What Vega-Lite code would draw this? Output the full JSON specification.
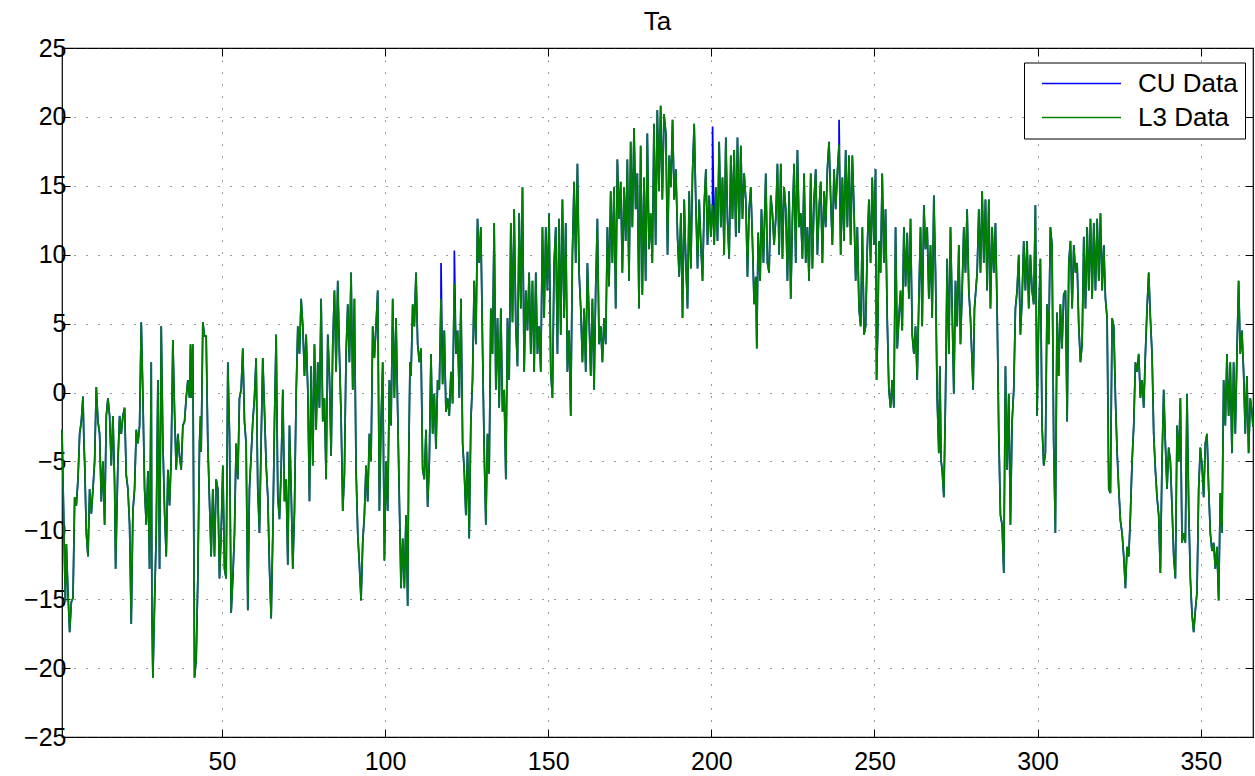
{
"$schema":"https://vega.github.io/schema/vega-lite/v6.json",
"width":1191,"height":689,
"autosize":{"type":"none"},
"padding":{"left":62,"top":48,"right":2,"bottom":39},
"background":"white",
"title":{"text":"Ta","fontSize":26,"font":"Liberation Sans","fontWeight":"normal","color":"black","anchor":"middle","frame":"group","baseline":"alphabetic","offset":-20},
"config":{"view":{"stroke":"black","strokeWidth":1.2},"axis":{"labelFont":"Liberation Sans","labelFontSize":25,"labelColor":"black","tickColor":"black","tickWidth":1,"title":null,"labelOverlap":false,"labelFlush":false}},
"data":{"values":[
{"d":1.0,"v":-2.7},{"d":2.02,"v":-15.2},{"d":2.33,"v":-11},{"d":2.84,"v":-14.6},{"d":3.35,"v":-17.4},{"d":3.86,"v":-15.2},{"d":4.37,"v":-14.9},{"d":4.88,"v":-7.6},{"d":5.39,"v":-8.2},{"d":5.9,"v":-6.3},{"d":6.41,"v":-3},{"d":6.92,"v":-2.1},{"d":7.43,"v":-0.3},{"d":7.73,"v":-3.7},{"d":7.94,"v":-5},{"d":8.45,"v":-10.2},{"d":8.96,"v":-11.9},{"d":9.47,"v":-7},{"d":9.98,"v":-8.8},{"d":10.49,"v":-7},{"d":11.0,"v":-5},{"d":11.51,"v":0.4},{"d":12.02,"v":-2.1},{"d":12.53,"v":-3},{"d":13.04,"v":-7.9},{"d":13.55,"v":-5},{"d":14.06,"v":-9.6},{"d":14.57,"v":-1.7},{"d":15.08,"v":-0.4},{"d":15.59,"v":-1.7},{"d":16.1,"v":-5.3},{"d":16.61,"v":-1.7},{"d":17.12,"v":-6.6},{"d":17.43,"v":-12.8},{"d":18.14,"v":-5},{"d":18.65,"v":-1.7},{"d":19.16,"v":-3},{"d":19.67,"v":-1.7},{"d":20.18,"v":-1.1},{"d":20.69,"v":-6},{"d":21.2,"v":-7},{"d":21.71,"v":-9.6},{"d":22.22,"v":-16.8},{"d":22.73,"v":-8.6},{"d":23.24,"v":-7},{"d":23.76,"v":-2.7},{"d":24.27,"v":-3.7},{"d":24.78,"v":-2.4},{"d":25.29,"v":5.1},{"d":25.8,"v":-0.4},{"d":26.31,"v":-7},{"d":26.82,"v":-9.6},{"d":27.33,"v":-5.7},{"d":27.84,"v":-12.8},{"d":28.35,"v":2.2},{"d":28.55,"v":-15.8},{"d":28.86,"v":-20.7},{"d":29.37,"v":-15.2},{"d":29.88,"v":-10.2},{"d":30.39,"v":0.9},{"d":30.9,"v":-12.8},{"d":31.41,"v":4.8},{"d":31.92,"v":-3.7},{"d":32.43,"v":-8.6},{"d":32.94,"v":-11.9},{"d":33.45,"v":-5.6},{"d":33.96,"v":-8.2},{"d":34.47,"v":-4.6},{"d":34.98,"v":3.8},{"d":35.49,"v":-1.4},{"d":36.0,"v":-5.6},{"d":36.51,"v":-3},{"d":37.02,"v":-4.6},{"d":37.53,"v":-5.6},{"d":38.04,"v":-2.4},{"d":38.55,"v":-2.1},{"d":39.06,"v":-0.4},{"d":39.57,"v":0.9},{"d":40.08,"v":-0.4},{"d":40.39,"v":3.5},{"d":40.59,"v":-0.4},{"d":41.1,"v":3.5},{"d":41.61,"v":-20.7},{"d":42.12,"v":-19.4},{"d":42.63,"v":-13.5},{"d":43.14,"v":-3.7},{"d":43.45,"v":-1.7},{"d":43.65,"v":-4.3},{"d":44.16,"v":5.1},{"d":44.67,"v":4.1},{"d":45.18,"v":4.1},{"d":45.69,"v":-3.7},{"d":46.2,"v":-7.9},{"d":46.71,"v":-11.9},{"d":47.22,"v":-7},{"d":47.73,"v":-11.9},{"d":48.24,"v":-6.3},{"d":48.76,"v":-7},{"d":49.27,"v":-13.5},{"d":49.78,"v":-10.2},{"d":50.29,"v":-5.3},{"d":50.8,"v":-12.8},{"d":51.31,"v":-13.5},{"d":51.82,"v":2.2},{"d":52.33,"v":-3},{"d":52.84,"v":-16},{"d":53.35,"v":-13.5},{"d":53.86,"v":-10.2},{"d":54.37,"v":-3.7},{"d":54.88,"v":-6.3},{"d":55.39,"v":-0.4},{"d":55.9,"v":0.2},{"d":56.41,"v":3.2},{"d":56.92,"v":-2.1},{"d":57.43,"v":-3.7},{"d":57.94,"v":-15.8},{"d":58.45,"v":-7},{"d":58.96,"v":-4.6},{"d":59.47,"v":-2.1},{"d":59.98,"v":-0.4},{"d":60.49,"v":2.5},{"d":61.0,"v":-7},{"d":61.51,"v":-10.2},{"d":62.02,"v":-3.7},{"d":62.53,"v":2.5},
{"d":63.06,"v":-1.4},{"d":63.57,"v":-5.3},{"d":64.08,"v":-7.6},{"d":64.59,"v":-12.8},{"d":65.1,"v":-16.4},{"d":65.61,"v":-10.2},{"d":66.12,"v":-2.1},{"d":66.63,"v":4.2},{"d":67.14,"v":-7.6},{"d":67.65,"v":-9.2},{"d":68.16,"v":-5.6},{"d":68.67,"v":0.2},{"d":69.18,"v":-7.9},{"d":69.69,"v":-6.3},{"d":70.2,"v":-12.5},{"d":70.71,"v":-2.4},{"d":71.22,"v":-7},{"d":71.73,"v":-12.8},{"d":72.24,"v":-8.6},{"d":72.76,"v":-0.1},{"d":73.27,"v":4.8},{"d":73.78,"v":2.8},{"d":74.29,"v":6.8},{"d":74.8,"v":4.8},{"d":75.31,"v":1.2},{"d":75.82,"v":4.2},{"d":76.33,"v":0.2},{"d":76.84,"v":-7.9},{"d":77.35,"v":1.9},{"d":77.86,"v":-5.3},{"d":78.37,"v":3.5},{"d":78.88,"v":-2.7},{"d":79.39,"v":2.2},{"d":79.9,"v":-1.1},{"d":80.41,"v":6.8},{"d":80.92,"v":-2.1},{"d":81.43,"v":-0.4},{"d":81.94,"v":-6.3},{"d":82.45,"v":4.2},{"d":82.96,"v":1.2},{"d":83.47,"v":-4.6},{"d":83.98,"v":3.5},{"d":84.49,"v":7.4},{"d":85.0,"v":1.5},{"d":85.51,"v":8.1},{"d":86.02,"v":2.8},{"d":86.53,"v":-1.7},{"d":87.04,"v":-8.6},{"d":87.55,"v":-5.9},{"d":88.06,"v":2.8},{"d":88.57,"v":6.4},{"d":89.08,"v":2.2},{"d":89.59,"v":8.7},{"d":90.1,"v":0.2},{"d":90.61,"v":6.8},{"d":91.12,"v":-5.6},{"d":91.63,"v":-10.2},{"d":92.14,"v":-12.5},{"d":92.65,"v":-15.1},{"d":93.16,"v":-10.9},{"d":93.67,"v":-8.9},{"d":94.18,"v":-5.3},{"d":94.69,"v":-7.9},{"d":95.2,"v":-3},{"d":95.71,"v":-5},{"d":96.22,"v":4.8},{"d":96.73,"v":2.5},{"d":97.24,"v":4.8},{"d":97.76,"v":7.4},{"d":98.27,"v":-8.6},{"d":98.78,"v":-2.1},{"d":99.29,"v":2.2},{"d":99.8,"v":-12.2},{"d":100.31,"v":-5},{"d":100.82,"v":-8.6},{"d":101.33,"v":0.9},{"d":101.84,"v":-2.4},{"d":102.35,"v":6.8},{"d":102.86,"v":-0.4},{"d":103.37,"v":5.4},{"d":103.88,"v":-1.4},{"d":104.39,"v":-7.9},{"d":104.9,"v":-14.2},{"d":105.41,"v":-10.6},{"d":105.92,"v":-14.2},{"d":106.43,"v":-8.9},{"d":106.94,"v":-15.5},{"d":107.24,"v":-5.3},{"d":107.65,"v":2.2},{"d":107.96,"v":1.2},{"d":108.47,"v":6.4},{"d":108.98,"v":4.8},{"d":109.49,"v":8.7},{"d":110.0,"v":3.5},{"d":110.51,"v":2.2},{"d":111.02,"v":3.2},{"d":111.53,"v":-5.6},{"d":112.04,"v":-6.3},{"d":112.55,"v":-2.7},{"d":113.06,"v":-8.3},{"d":113.57,"v":-5},{"d":114.08,"v":2.8},{"d":114.59,"v":-3},{"d":115.1,"v":-0.1},{"d":115.61,"v":-4.1},{"d":116.12,"v":0.9},{"d":116.63,"v":0.2},{"d":117.14,"v":6.8},{"d":117.16,"v":9.4,"cu":1},{"d":117.65,"v":0.6},{"d":118.16,"v":4.5},{"d":118.67,"v":-1.4},{"d":119.18,"v":-0.4},{"d":119.69,"v":-1.7},{"d":120.2,"v":1.5},{"d":120.71,"v":-0.8},{"d":121.22,"v":7.9},{"d":121.24,"v":10.3,"cu":1},{"d":121.73,"v":2.8},{"d":122.24,"v":4.5},{"d":122.76,"v":-0.4},{"d":123.27,"v":6.8},{"d":123.78,"v":-3.7},
{"d":124.26,"v":-5.6},{"d":124.77,"v":-8.9},{"d":125.28,"v":-4.3},{"d":125.79,"v":-10.6},{"d":126.3,"v":-2.1},{"d":126.81,"v":0.9},{"d":127.32,"v":8.1},{"d":127.83,"v":3.5},{"d":128.34,"v":12.6},{"d":128.85,"v":9.4},{"d":129.36,"v":12},{"d":129.87,"v":3.5},{"d":130.38,"v":-4.1},{"d":130.89,"v":-9.6},{"d":131.4,"v":-3},{"d":131.91,"v":-5.9},{"d":132.42,"v":6.1},{"d":132.93,"v":2.8},{"d":133.44,"v":12.3},{"d":133.96,"v":0.2},{"d":134.47,"v":5.4},{"d":134.98,"v":-1.1},{"d":135.49,"v":6.1},{"d":136.0,"v":-1.4},{"d":136.51,"v":0.2},{"d":137.02,"v":-6.3},{"d":137.53,"v":5.4},{"d":138.04,"v":0.9},{"d":138.55,"v":12.3},{"d":139.06,"v":5.1},{"d":139.57,"v":13.3},{"d":140.08,"v":4.8},{"d":140.59,"v":1.9},{"d":141.1,"v":13},{"d":141.61,"v":6.1},{"d":142.12,"v":14.9},{"d":142.63,"v":1.5},{"d":143.14,"v":7.4},{"d":143.65,"v":4.5},{"d":144.16,"v":8.7},{"d":144.67,"v":2.8},{"d":145.18,"v":8.1},{"d":145.69,"v":1.5},{"d":146.2,"v":8.7},{"d":146.71,"v":2.8},{"d":147.22,"v":4.8},{"d":147.73,"v":1.5},{"d":148.24,"v":12},{"d":148.75,"v":5.4},{"d":149.26,"v":12},{"d":149.77,"v":7.4},{"d":150.28,"v":13},{"d":150.79,"v":1.5},{"d":151.3,"v":-0.4},{"d":151.81,"v":9.4},{"d":152.32,"v":12},{"d":152.83,"v":2.8},{"d":153.34,"v":12.6},{"d":153.85,"v":4.2},{"d":154.36,"v":14},{"d":154.87,"v":5.4},{"d":155.38,"v":12.3},{"d":155.89,"v":1.5},{"d":156.4,"v":4.5},{"d":156.91,"v":-1.7},{"d":157.42,"v":10},{"d":157.93,"v":15.3},{"d":158.44,"v":9.4},{"d":158.96,"v":16.6},{"d":159.47,"v":8.7},{"d":159.98,"v":6.1},{"d":160.49,"v":2.2},{"d":161.0,"v":6.1},{"d":161.51,"v":1.5},{"d":162.02,"v":9.4},{"d":162.53,"v":5.4},{"d":163.04,"v":1.2},{"d":163.55,"v":6.8},{"d":164.06,"v":0.2},{"d":164.57,"v":7.7},{"d":165.08,"v":12.6},{"d":165.59,"v":3.5},{"d":166.1,"v":4.8},{"d":166.61,"v":2.2},{"d":167.12,"v":5.4},{"d":167.63,"v":3.5},{"d":168.14,"v":12},{"d":168.65,"v":7.7},{"d":169.16,"v":14.6},{"d":169.67,"v":9.4},{"d":170.18,"v":14.9},{"d":170.69,"v":6.1},{"d":171.2,"v":16.9},{"d":171.71,"v":12.6},{"d":172.22,"v":15.3},{"d":172.73,"v":8.7},{"d":173.24,"v":14.9},{"d":173.75,"v":11},{"d":174.26,"v":16.9},{"d":174.77,"v":8.1},{"d":175.28,"v":18.2},{"d":175.79,"v":12},{"d":176.3,"v":19.2},{"d":176.81,"v":13.3},{"d":177.32,"v":15.9},{"d":177.83,"v":6.1},{"d":178.34,"v":17.9},{"d":178.85,"v":7.1},{"d":179.36,"v":15.6},{"d":179.87,"v":8.1},{"d":180.38,"v":18.8},{"d":180.89,"v":10.4},{"d":181.4,"v":13},{"d":181.91,"v":9.4},{"d":182.42,"v":19.5},{"d":182.93,"v":10.7},{"d":183.44,"v":20.5},{"d":183.95,"v":14.6},{"d":184.47,"v":20.8},{"d":184.98,"v":14},{"d":185.49,"v":20.2},
{"d":186.07,"v":18.8},{"d":186.58,"v":10},{"d":187.09,"v":17.2},{"d":187.6,"v":14.9},{"d":188.11,"v":19.8},{"d":188.62,"v":14},{"d":189.13,"v":16.2},{"d":189.64,"v":11.3},{"d":190.15,"v":8.4},{"d":190.66,"v":13},{"d":191.17,"v":5.4},{"d":191.68,"v":14},{"d":192.19,"v":9.4},{"d":192.7,"v":6.1},{"d":193.21,"v":14.6},{"d":193.72,"v":9},{"d":194.23,"v":15.9},{"d":194.74,"v":19.5},{"d":195.26,"v":13.6},{"d":195.77,"v":9},{"d":196.28,"v":14},{"d":196.79,"v":10.7},{"d":197.3,"v":8.1},{"d":197.81,"v":13.6},{"d":198.32,"v":16.2},{"d":198.83,"v":10.7},{"d":199.34,"v":14.3},{"d":199.85,"v":11.3},{"d":200.36,"v":13.6},{"d":200.38,"v":19.3,"cu":1},{"d":200.87,"v":10.7},{"d":201.38,"v":14.9},{"d":201.89,"v":11},{"d":202.4,"v":18.2},{"d":202.91,"v":12},{"d":203.42,"v":15.6},{"d":203.93,"v":10},{"d":204.44,"v":18.5},{"d":204.95,"v":12.6},{"d":205.46,"v":9.7},{"d":205.97,"v":17.2},{"d":206.48,"v":12.6},{"d":206.99,"v":17.6},{"d":207.5,"v":11.3},{"d":208.01,"v":18.5},{"d":208.52,"v":11.6},{"d":209.03,"v":17.9},{"d":209.54,"v":12.6},{"d":210.05,"v":15.9},{"d":210.56,"v":14},{"d":211.07,"v":8.4},{"d":211.58,"v":13.3},{"d":212.09,"v":14.9},{"d":212.6,"v":11},{"d":213.11,"v":6.4},{"d":213.62,"v":8.4},{"d":213.93,"v":3.2},{"d":214.34,"v":11.6},{"d":214.95,"v":8.1},{"d":215.36,"v":13.3},{"d":215.97,"v":9.4},{"d":216.68,"v":15.9},{"d":217.19,"v":9.4},{"d":217.7,"v":8.7},{"d":218.21,"v":14.3},{"d":218.72,"v":13},{"d":219.23,"v":10.7},{"d":219.74,"v":12.6},{"d":220.26,"v":16.6},{"d":220.77,"v":10},{"d":221.28,"v":16.6},{"d":221.79,"v":9.7},{"d":222.3,"v":14.9},{"d":222.81,"v":13.3},{"d":223.32,"v":8.1},{"d":223.83,"v":14.6},{"d":224.34,"v":6.8},{"d":224.85,"v":12.6},{"d":225.36,"v":16.6},{"d":225.87,"v":9.4},{"d":226.38,"v":17.6},{"d":226.89,"v":12},{"d":227.4,"v":13},{"d":227.91,"v":9.7},{"d":228.42,"v":15.9},{"d":228.93,"v":9.4},{"d":229.44,"v":12},{"d":229.95,"v":8.1},{"d":230.46,"v":15.9},{"d":230.97,"v":9},{"d":231.48,"v":14},{"d":231.99,"v":16.2},{"d":232.5,"v":10},{"d":233.01,"v":13.3},{"d":233.52,"v":15.3},{"d":234.03,"v":9.4},{"d":234.54,"v":14.6},{"d":235.05,"v":12},{"d":235.56,"v":16.2},{"d":236.07,"v":18.2},{"d":236.58,"v":14},{"d":237.09,"v":10.7},{"d":237.6,"v":16.2},{"d":238.11,"v":13.3},{"d":238.62,"v":15.9},{"d":239.13,"v":18.0},{"d":239.15,"v":19.8,"cu":1},{"d":239.64,"v":10},{"d":240.15,"v":15.6},{"d":240.66,"v":11},{"d":241.17,"v":17.6},{"d":241.68,"v":12},{"d":242.19,"v":17.2},{"d":242.7,"v":10.7},{"d":243.21,"v":17.2},{"d":243.72,"v":13.3},{"d":244.23,"v":8.1},{"d":244.74,"v":12},{"d":245.26,"v":6.1},{"d":245.77,"v":4.8},{"d":246.28,"v":12},{"d":246.79,"v":4.2},
{"d":247.27,"v":4.8},{"d":247.78,"v":10.4},{"d":248.29,"v":14},{"d":248.8,"v":9.4},{"d":249.31,"v":15.6},{"d":249.82,"v":10.7},{"d":250.33,"v":16.2},{"d":250.64,"v":0.9},{"d":251.05,"v":5.1},{"d":251.35,"v":11},{"d":251.86,"v":8.7},{"d":252.37,"v":15.9},{"d":252.88,"v":9.4},{"d":253.39,"v":13.3},{"d":253.9,"v":5.4},{"d":254.41,"v":0.2},{"d":254.92,"v":-1.1},{"d":255.43,"v":0.9},{"d":255.94,"v":-1.1},{"d":256.46,"v":12},{"d":256.97,"v":3.2},{"d":257.48,"v":5.4},{"d":257.99,"v":7.4},{"d":258.5,"v":4.5},{"d":259.01,"v":12},{"d":259.52,"v":7.7},{"d":260.03,"v":11.6},{"d":260.54,"v":6.8},{"d":261.05,"v":12.6},{"d":261.56,"v":4.2},{"d":262.07,"v":2.8},{"d":262.58,"v":4.8},{"d":263.09,"v":0.9},{"d":263.6,"v":6.8},{"d":264.11,"v":12},{"d":264.62,"v":4.8},{"d":265.13,"v":13.6},{"d":265.64,"v":10.4},{"d":266.15,"v":12},{"d":266.66,"v":6.8},{"d":267.17,"v":10.7},{"d":267.68,"v":5.4},{"d":268.19,"v":14.3},{"d":268.7,"v":8.7},{"d":269.21,"v":-0.4},{"d":269.72,"v":-4.4},{"d":270.03,"v":1.9},{"d":270.43,"v":-5},{"d":270.74,"v":-5.6},{"d":271.25,"v":-7.6},{"d":271.76,"v":-0.4},{"d":272.27,"v":9.7},{"d":272.78,"v":2.8},{"d":273.29,"v":12},{"d":273.8,"v":6.1},{"d":274.31,"v":-0.1},{"d":274.82,"v":8.1},{"d":275.33,"v":4.8},{"d":275.84,"v":10.7},{"d":276.35,"v":3.5},{"d":276.86,"v":7.4},{"d":277.37,"v":12},{"d":277.88,"v":8.7},{"d":278.39,"v":13.3},{"d":278.9,"v":7.4},{"d":279.41,"v":5.4},{"d":279.92,"v":2.2},{"d":280.23,"v":0.2},{"d":280.64,"v":6.1},{"d":281.05,"v":7.4},{"d":281.46,"v":8.7},{"d":281.97,"v":13.3},{"d":282.48,"v":8.7},{"d":282.99,"v":14.6},{"d":283.5,"v":9.4},{"d":284.01,"v":14},{"d":284.52,"v":7.4},{"d":285.03,"v":14},{"d":285.54,"v":6.1},{"d":286.05,"v":12},{"d":286.56,"v":8.7},{"d":287.07,"v":12.3},{"d":287.58,"v":6.1},{"d":288.09,"v":-3},{"d":288.6,"v":-8.9},{"d":289.11,"v":-9.6},{"d":289.62,"v":-13.1},{"d":290.13,"v":1.9},{"d":290.64,"v":-5.6},{"d":291.15,"v":-0.1},{"d":291.66,"v":-9.6},{"d":292.17,"v":-2.1},{"d":292.68,"v":0.2},{"d":293.19,"v":6.1},{"d":293.7,"v":7.4},{"d":294.21,"v":10},{"d":294.72,"v":4.2},{"d":295.23,"v":6.8},{"d":295.74,"v":11},{"d":296.25,"v":7.4},{"d":296.76,"v":11},{"d":297.27,"v":6.1},{"d":297.78,"v":10},{"d":298.29,"v":7.4},{"d":298.8,"v":6.4},{"d":299.31,"v":13.6},{"d":299.82,"v":-1.7},{"d":300.33,"v":5.4},{"d":300.84,"v":9.7},{"d":301.35,"v":-2.4},{"d":301.86,"v":-5.3},{"d":302.37,"v":-4.4},{"d":302.88,"v":6.4},{"d":303.39,"v":3.5},{"d":303.9,"v":12},{"d":304.41,"v":10.7},{"d":304.92,"v":-3.7},{"d":305.43,"v":-10.2},{"d":305.94,"v":5.8},{"d":306.45,"v":1.2},{"d":306.96,"v":6.4},{"d":307.47,"v":3.2},{"d":307.98,"v":7.1},
{"d":308.53,"v":7.4},{"d":309.04,"v":-2.1},{"d":309.55,"v":9.4},{"d":310.06,"v":11},{"d":310.57,"v":6.1},{"d":311.08,"v":10.7},{"d":311.59,"v":8.7},{"d":312.1,"v":9.4},{"d":312.61,"v":4.8},{"d":313.12,"v":2.2},{"d":313.63,"v":3.5},{"d":314.14,"v":11.3},{"d":314.66,"v":6.1},{"d":315.17,"v":12},{"d":315.68,"v":7.4},{"d":316.19,"v":12.6},{"d":316.7,"v":6.8},{"d":317.21,"v":12.3},{"d":317.72,"v":7.4},{"d":318.23,"v":12.6},{"d":318.74,"v":8.1},{"d":319.25,"v":13},{"d":319.76,"v":7.4},{"d":320.27,"v":10.7},{"d":320.78,"v":6.8},{"d":321.29,"v":5.4},{"d":321.8,"v":-7},{"d":322.31,"v":-7.3},{"d":322.82,"v":5.4},{"d":323.33,"v":4.8},{"d":323.84,"v":-0.4},{"d":324.35,"v":-4.3},{"d":324.86,"v":-7},{"d":325.37,"v":-9.3},{"d":325.88,"v":-10.2},{"d":326.39,"v":-11.9},{"d":326.9,"v":-14.2},{"d":327.41,"v":-11.2},{"d":327.92,"v":-11.9},{"d":328.43,"v":-8.9},{"d":328.94,"v":-5},{"d":329.45,"v":-2.4},{"d":329.96,"v":2.2},{"d":330.47,"v":1.5},{"d":330.98,"v":2.8},{"d":331.49,"v":-0.4},{"d":332.0,"v":0.9},{"d":332.51,"v":-1.1},{"d":333.02,"v":2.8},{"d":333.53,"v":6.1},{"d":334.04,"v":8.7},{"d":334.55,"v":5.4},{"d":335.06,"v":2.8},{"d":335.57,"v":-3},{"d":336.08,"v":-5.6},{"d":336.59,"v":-7.6},{"d":337.1,"v":-8.9},{"d":337.61,"v":-13.1},{"d":338.12,"v":-5},{"d":338.63,"v":0.2},{"d":339.14,"v":-3.7},{"d":339.65,"v":-7},{"d":340.16,"v":-4},{"d":340.67,"v":-5},{"d":341.19,"v":-8.3},{"d":341.7,"v":-11.9},{"d":342.21,"v":-13.5},{"d":342.72,"v":-2.4},{"d":343.23,"v":-5},{"d":343.74,"v":-0.4},{"d":344.25,"v":-10.9},{"d":344.76,"v":-10.2},{"d":345.27,"v":-10.9},{"d":345.78,"v":-0.1},{"d":346.29,"v":-8.3},{"d":346.8,"v":-13.5},{"d":347.31,"v":-16.1},{"d":347.82,"v":-17.4},{"d":348.33,"v":-15.8},{"d":348.84,"v":-14.5},{"d":349.35,"v":-7},{"d":349.86,"v":-4},{"d":350.37,"v":-5.3},{"d":350.88,"v":-7.6},{"d":351.39,"v":-3.7},{"d":351.9,"v":-3},{"d":352.41,"v":-7},{"d":352.92,"v":-10.2},{"d":353.43,"v":-11.5},{"d":353.94,"v":-10.9},{"d":354.45,"v":-12.8},{"d":354.96,"v":-11.2},{"d":355.47,"v":-15.1},{"d":355.98,"v":-7.3},{"d":356.49,"v":-10.2},{"d":357.0,"v":0.9},{"d":357.51,"v":-2.4},{"d":358.02,"v":2.8},{"d":358.53,"v":-1.7},{"d":359.04,"v":2.2},{"d":359.55,"v":-4.4},{"d":360.06,"v":2.2},{"d":360.57,"v":-3},{"d":361.08,"v":2.8},{"d":361.59,"v":8.1},{"d":362.1,"v":2.8},{"d":362.61,"v":4.5},{"d":363.12,"v":1.5},{"d":363.63,"v":-3},{"d":364.14,"v":1.2},{"d":364.66,"v":-4.4},{"d":365.17,"v":-0.4},{"d":365.68,"v":-1.4},{"d":366.0,"v":-2.5}
]},
"layer":[
{"mark":{"type":"line","strokeWidth":1.7},
 "encoding":{
  "x":{"field":"d","type":"quantitative","scale":{"domain":[1,366],"nice":false,"zero":false},
       "axis":{"orient":"bottom","values":[50,100,150,200,250,300,350],"grid":true,"gridColor":"#333","gridDash":[1,11],"gridWidth":1,"tickSize":-8,"domain":false,"labelPadding":20}},
  "y":{"field":"v","type":"quantitative","scale":{"domain":[-25,25],"nice":false,"zero":false},
       "axis":{"orient":"left","values":[-25,-20,-15,-10,-5,0,5,10,15,20,25],"grid":true,"gridColor":"#333","gridDash":[1,11],"gridWidth":1,"tickSize":-8,"domain":false,"labelPadding":4}},
  "color":{"datum":"CU Data","type":"nominal","scale":{"domain":["CU Data","L3 Data"],"range":["#0000ff","#008000"]},
       "legend":{"orient":"none","legendX":962,"legendY":14.5,"title":null,"symbolType":"stroke","symbolSize":6241,"clipHeight":28,"symbolStrokeWidth":1.3,"labelFontSize":26,"labelFont":"Liberation Sans","labelColor":"black","strokeColor":"black","fillColor":"white","padding":7,"rowPadding":6,"labelOffset":16,"symbolOffset":10,"cornerRadius":0}}
 }},
{"transform":[{"filter":"!datum.cu"}],
 "mark":{"type":"line","strokeWidth":1.7},
 "encoding":{
  "x":{"field":"d","type":"quantitative","axis":{"orient":"top","values":[50,100,150,200,250,300,350],"grid":false,"labels":false,"tickSize":-8,"domain":false,"minExtent":0,"maxExtent":0}},
  "y":{"field":"v","type":"quantitative","axis":{"orient":"right","values":[-25,-20,-15,-10,-5,0,5,10,15,20,25],"grid":false,"labels":false,"tickSize":-8,"domain":false,"minExtent":0,"maxExtent":0}},
  "color":{"datum":"L3 Data","type":"nominal"}
 }}
],
"resolve":{"axis":{"x":"independent","y":"independent"}}
}
